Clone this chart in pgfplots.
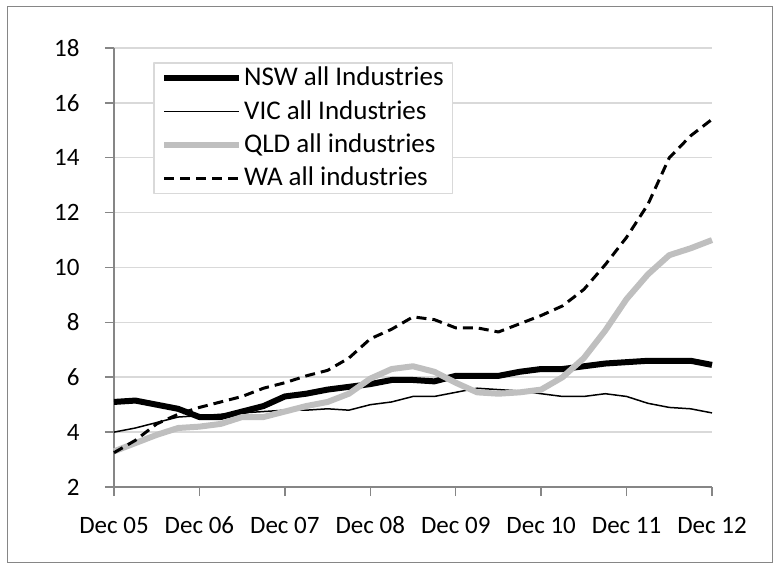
\documentclass[border=0pt]{standalone}
\usepackage{pgfplots}
\pgfplotsset{compat=1.18}
\usepackage{fontspec}
\setmainfont{Carlito}
\definecolor{axgray}{RGB}{134,134,134}
\definecolor{gridgray}{RGB}{217,217,217}
\definecolor{qldgray}{RGB}{191,191,191}
\begin{document}
\fontsize{25bp}{30bp}\selectfont
\begin{tikzpicture}
\path[use as bounding box] (0,0) rectangle (781bp,570bp);
\draw[axgray, line width=1bp] (7.5bp,7.5bp) rectangle (772bp,563bp);
\begin{axis}[
  at={(114bp,83bp)}, anchor=origin,
  scale only axis, width=598bp, height=439bp,
  xmin=0, xmax=28, ymin=2, ymax=18,
  xtick={0,4,...,28},
  xticklabels={Dec 05,Dec 06,Dec 07,Dec 08,Dec 09,Dec 10,Dec 11,Dec 12},
  ytick={2,4,...,18},
  axis lines=left,
  axis line style={axgray, line width=2bp, -},
  tick style={axgray, line width=1.5bp},
  major tick length=9bp,
  tick align=outside,
  ymajorgrids, grid style={gridgray, line width=1.5bp},
  every x tick label/.append style={anchor=base, yshift=-37bp, text height=17bp, text depth=0bp},
  every y tick label/.append style={xshift=-17bp},
  tick label style={font=\fontsize{25bp}{30bp}\selectfont},
  /pgf/number format/assume math mode=true,
  clip=false,
  legend cell align=left,
  legend style={at={(0.066,0.968)}, anchor=north west, draw=gridgray, line width=1.5bp,
    font=\fontsize{27bp}{30bp}\selectfont, fill=white,
    inner xsep=7bp, inner ysep=2bp, row sep=7bp,
    /tikz/every even column/.append style={column sep=2bp}},
  legend image code/.code={\draw[#1] (0bp,0bp) -- (75bp,0bp);},
  line join=round,
]
\addplot[black, line width=6bp] coordinates {
(0,5.1)(1,5.15)(2,5.0)(3,4.85)(4,4.55)(5,4.55)(6,4.75)(7,4.95)(8,5.3)(9,5.4)
(10,5.55)(11,5.65)(12,5.75)(13,5.9)(14,5.9)(15,5.85)(16,6.05)(17,6.05)(18,6.05)(19,6.2)
(20,6.3)(21,6.3)(22,6.4)(23,6.5)(24,6.55)(25,6.6)(26,6.6)(27,6.6)(28,6.45)};
\addlegendentry{NSW all Industries}
\addplot[black, line width=1.5bp] coordinates {
(0,4.0)(1,4.15)(2,4.35)(3,4.55)(4,4.6)(5,4.65)(6,4.7)(7,4.75)(8,4.8)(9,4.8)
(10,4.85)(11,4.8)(12,5.0)(13,5.1)(14,5.3)(15,5.3)(16,5.45)(17,5.6)(18,5.55)(19,5.5)
(20,5.4)(21,5.3)(22,5.3)(23,5.4)(24,5.3)(25,5.05)(26,4.9)(27,4.85)(28,4.7)};
\addlegendentry{VIC all Industries}
\addplot[qldgray, line width=6bp] coordinates {
(0,3.3)(1,3.6)(2,3.9)(3,4.15)(4,4.2)(5,4.3)(6,4.55)(7,4.55)(8,4.75)(9,4.95)
(10,5.1)(11,5.4)(12,5.95)(13,6.3)(14,6.4)(15,6.2)(16,5.8)(17,5.45)(18,5.4)(19,5.45)
(20,5.55)(21,6.0)(22,6.7)(23,7.7)(24,8.85)(25,9.75)(26,10.45)(27,10.7)(28,11.0)};
\addlegendentry{QLD all industries}
\addplot[black, line width=3bp, dash pattern=on 10bp off 6bp] coordinates {
(0,3.25)(1,3.7)(2,4.3)(3,4.65)(4,4.9)(5,5.1)(6,5.3)(7,5.6)(8,5.8)(9,6.05)
(10,6.25)(11,6.7)(12,7.4)(13,7.75)(14,8.2)(15,8.1)(16,7.8)(17,7.8)(18,7.65)(19,7.95)
(20,8.25)(21,8.6)(22,9.2)(23,10.1)(24,11.1)(25,12.3)(26,14.0)(27,14.8)(28,15.4)};
\addlegendentry{WA all industries}
\end{axis}
\end{tikzpicture}
\end{document}
